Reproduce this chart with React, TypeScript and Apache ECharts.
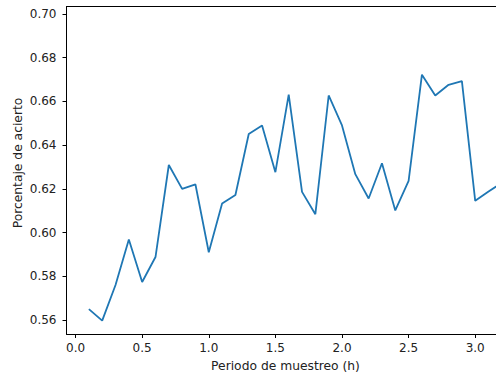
import React, { useEffect, useRef } from "react";
import * as echarts from "echarts";

const periods = [0.1, 0.2, 0.3, 0.4, 0.5, 0.6, 0.7, 0.8, 0.9, 1.0, 1.1, 1.2, 1.3, 1.4, 1.5, 1.6, 1.7, 1.8, 1.9, 2.0, 2.1, 2.2, 2.3, 2.4, 2.5, 2.6, 2.7, 2.8, 2.9, 3.0, 3.1, 3.2];
const accuracy = [0.565, 0.5597, 0.576, 0.5968, 0.5774, 0.5888, 0.6309, 0.62, 0.622, 0.591, 0.6133, 0.6172, 0.6451, 0.649, 0.6276, 0.6631, 0.6186, 0.6084, 0.6627, 0.649, 0.6267, 0.6156, 0.6317, 0.6101, 0.6236, 0.6722, 0.6627, 0.6676, 0.6693, 0.6145, 0.6188, 0.6228];
const xTicks = [0, 0.5, 1.0, 1.5, 2.0, 2.5, 3.0];
const yTicks = [0.56, 0.58, 0.6, 0.62, 0.64, 0.66, 0.68, 0.7];

const FONT = "DejaVu Sans";
const TICK_FS = 12;
const LABEL_FS = 12.3;

export default function App() {
  const ref = useRef<HTMLDivElement>(null);
  useEffect(() => {
    if (!ref.current) return;
    const chart = echarts.init(ref.current, null, { renderer: "svg" });
    const xMin = -0.068;
    const xMax = 3.156;
    chart.setOption({
      animation: false,
      backgroundColor: "#ffffff",
      textStyle: { fontFamily: FONT },
      grid: { left: 66.5, right: 0, top: 6.5, bottom: 39, containLabel: false },
      xAxis: [
        {
          type: "value",
          min: xMin,
          max: xMax,
          position: "bottom",
          axisLine: { show: true, onZero: false, lineStyle: { color: "#000", width: 1 } },
          axisTick: { show: true, length: 4, customValues: xTicks, lineStyle: { color: "#000", width: 1 } },
          axisLabel: {
            customValues: xTicks,
            margin: 8,
            color: "#222",
            fontSize: TICK_FS,
            fontFamily: FONT,
            formatter: (v: number) => v.toFixed(1),
          },
          splitLine: { show: false },
        },
        {
          type: "value",
          min: xMin,
          max: xMax,
          position: "top",
          axisLine: { show: true, onZero: false, lineStyle: { color: "#000", width: 1 } },
          axisTick: { show: false },
          axisLabel: { show: false },
          splitLine: { show: false },
        },
      ],
      yAxis: {
        type: "value",
        min: 0.5536,
        max: 0.7034,
        axisLine: { show: true, onZero: false, lineStyle: { color: "#000", width: 1 } },
        axisTick: { show: true, length: 4, customValues: yTicks, lineStyle: { color: "#000", width: 1 } },
        axisLabel: {
          customValues: yTicks,
          margin: 10,
          color: "#222",
          fontSize: TICK_FS,
          fontFamily: FONT,
          formatter: (v: number) => v.toFixed(2),
        },
        splitLine: { show: false },
      },
      graphic: [
        {
          type: "text",
          x: 285.5,
          y: 366,
          style: {
            text: "Periodo de muestreo (h)",
            fill: "#222",
            fontSize: LABEL_FS,
            fontFamily: FONT,
            align: "center",
            verticalAlign: "middle",
          },
        },
        {
          type: "text",
          x: 17.5,
          y: 163,
          rotation: Math.PI / 2,
          style: {
            text: "Porcentaje de acierto",
            fill: "#222",
            fontSize: LABEL_FS,
            fontFamily: FONT,
            align: "center",
            verticalAlign: "middle",
          },
        },
      ],
      series: [
        {
          type: "line",
          xAxisIndex: 0,
          data: periods.map((p, i) => [p, accuracy[i]]),
          symbol: "none",
          clip: true,
          lineStyle: { color: "#1f77b4", width: 1.8 },
        },
      ],
    });
    return () => chart.dispose();
  }, []);
  return (
    <div
      ref={ref}
      style={{ position: "fixed", left: 0, top: 0, width: 496, height: 373 }}
    />
  );
}
